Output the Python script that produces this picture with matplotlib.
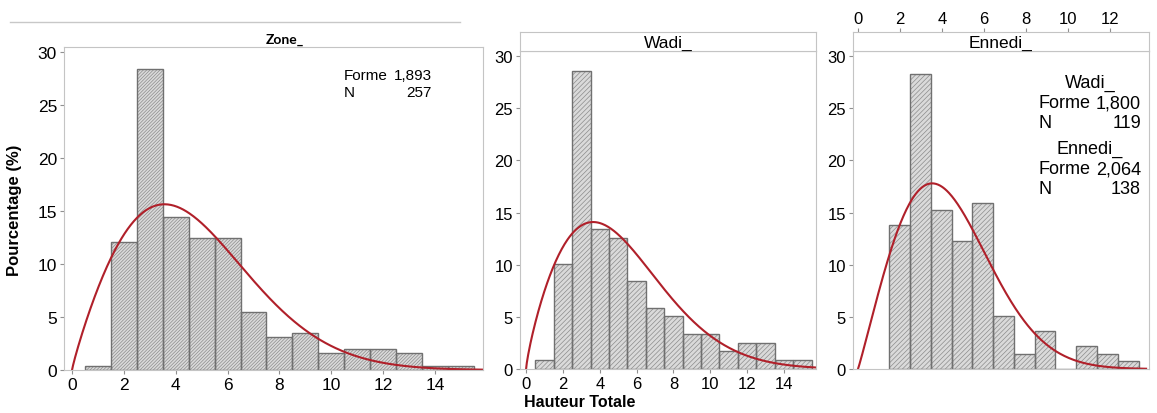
import numpy as np
import matplotlib.pyplot as plt

plt.rcParams['font.family'] = ['Liberation Sans', 'DejaVu Sans']
plt.rcParams['hatch.linewidth'] = 0.5

W, H = 1157, 414

# histogram percentages (bin width 1, centred on integers)
zone_x = np.arange(1, 16)
zone_pct = [0.39, 12.06, 28.40, 14.40, 12.45, 12.45, 5.45, 3.11, 3.50, 1.56, 1.95, 1.95, 1.56, 0.39, 0.39]
wadi_x = np.arange(1, 16)
wadi_pct = [0.84, 10.08, 28.57, 13.45, 12.61, 8.40, 5.88, 5.04, 3.36, 3.36, 1.68, 2.52, 2.52, 0.84, 0.84]
ennedi_x = np.arange(2, 14)
ennedi_pct = [13.77, 28.26, 15.22, 12.32, 15.94, 5.07, 1.45, 3.62, 0, 2.17, 1.45, 0.72]

# fitted Weibull (shape from the chart, scale estimated from the curve peak)
zone_shape, zone_scale = 1.893, 5.30
wadi_shape, wadi_scale = 1.800, 5.71
ennedi_shape, ennedi_scale = 2.064, 4.92

RED = '#b0202a'
FILL = '#dadada'
HATCH_C = '#8c8c8c'
EDGE = '#707070'
SPINE = '#c4c4c4'

fig = plt.figure(figsize=(W / 100, H / 100), dpi=100)


def px_axes(l, t, r, b):
    return fig.add_axes([l / W, 1 - b / H, (r - l) / W, (b - t) / H])


def ftext(x, y, s, ha='left', **kw):
    fig.text(x / W, 1 - y / H, s, ha=ha, va='center', **kw)


def weibull_pct(x, k, lam):
    z = np.clip(x, 0, None) / lam
    return 100 * k / lam * z ** (k - 1) * np.exp(-z ** k)


def draw_panel(ax, xs, pct, k, lam, xlim, hatch, labelsize):
    ax.bar(xs, pct, width=1, color=FILL, hatch=hatch, edgecolor=HATCH_C, linewidth=0)
    ax.bar(xs, pct, width=1, fill=False, edgecolor=EDGE, linewidth=1)
    xc = np.linspace(0, xlim[1], 400)
    ax.plot(xc, weibull_pct(xc, k, lam), color=RED, lw=1.5)
    ax.set_xlim(*xlim)
    ax.set_ylim(0, 30.5)
    ax.set_yticks(range(0, 31, 5))
    ax.set_xticks(range(0, 15, 2))
    for s in ax.spines.values():
        s.set_color(SPINE)
    ax.tick_params(direction='out', length=3, color='#909090', labelsize=labelsize, pad=2)


# panel 1 : all zones
ax1 = px_axes(64, 48, 483, 371)
draw_panel(ax1, zone_x, zone_pct, zone_shape, zone_scale, (-0.31, 15.85), '//////////', 12.5)
ax1.set_ylim(0, 30.47)
fig.text(285 / W, 1 - 40 / H, 'Zone_', ha='center', va='center', fontsize=10,
         fontweight='bold', family=['Lato', 'DejaVu Sans'])
ftext(344, 76, 'Forme', fontsize=11)
ftext(432, 76, '1,893', ha='right', fontsize=11)
ftext(344, 93, 'N', fontsize=11)
ftext(432, 93, '257', ha='right', fontsize=11)

# panel 2 : Wadi
ax2 = px_axes(520, 52, 816, 370)
draw_panel(ax2, wadi_x, wadi_pct, wadi_shape, wadi_scale, (-0.33, 15.74), '///////', 12)
s2 = px_axes(520, 33, 816, 52)
s2.set_xticks([])
s2.set_yticks([])
for s in s2.spines.values():
    s.set_color(SPINE)
s2.text(0.5, 0.45, 'Wadi_', ha='center', va='center', fontsize=12.5, transform=s2.transAxes)

# panel 3 : Ennedi
ax3 = px_axes(853, 52, 1149, 370)
draw_panel(ax3, ennedi_x, ennedi_pct, ennedi_shape, ennedi_scale, (-0.24, 13.86), '///////', 12)
ax3.set_xticks([])
s3 = px_axes(853, 33, 1149, 52)
s3.set_xlim(-0.24, 13.86)
s3.set_xticks(range(0, 13, 2))
s3.set_yticks([])
s3.xaxis.tick_top()
for s in s3.spines.values():
    s.set_color(SPINE)
s3.tick_params(direction='out', length=3, color='#909090', labelsize=12, pad=1)
s3.text(0.5, 0.45, 'Ennedi_', ha='center', va='center', fontsize=12.5, transform=s3.transAxes)

ftext(1090, 83, 'Wadi_', ha='center', fontsize=13)
ftext(1038, 104, 'Forme', fontsize=13)
ftext(1141, 104, '1,800', ha='right', fontsize=13)
ftext(1038, 123, 'N', fontsize=13)
ftext(1141, 123, '119', ha='right', fontsize=13)
ftext(1090, 149, 'Ennedi_', ha='center', fontsize=13)
ftext(1038, 170, 'Forme', fontsize=13)
ftext(1141, 170, '2,064', ha='right', fontsize=13)
ftext(1038, 189, 'N', fontsize=13)
ftext(1141, 189, '138', ha='right', fontsize=13)

# shared axis titles
fig.text(15 / W, 1 - 210 / H, 'Pourcentage (%)', rotation=90, ha='center', va='center',
         fontsize=12, fontweight='bold')
fig.text(580 / W, 1 - 403 / H, 'Hauteur Totale', ha='center', va='center',
         fontsize=11.5, fontweight='bold')

# thin separator line at the top of the first panel
fig.add_artist(plt.Line2D([10 / W, 460 / W], [1 - 23 / H, 1 - 23 / H], color='#c8c8c8', lw=1))

fig.savefig('out.png', dpi=100)
